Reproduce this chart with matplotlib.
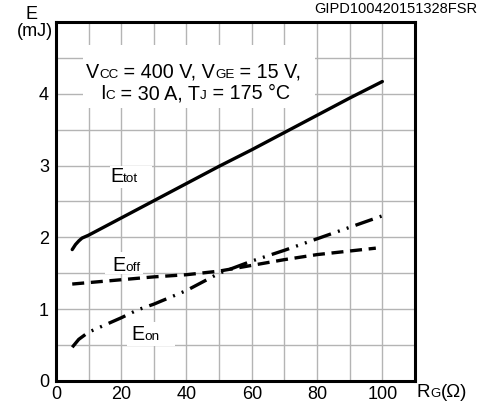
import numpy as np
import matplotlib
matplotlib.use('Agg')
import matplotlib.pyplot as plt
from matplotlib.patches import Rectangle
from matplotlib.offsetbox import TextArea, HPacker, AnnotationBbox

plt.rcParams['font.family'] = ['Liberation Sans', 'DejaVu Sans']

# gate resistance (ohm) and switching energies (mJ)
rg_tot = [5, 6, 7, 8, 10, 20, 30, 40, 50, 60, 70, 80, 90, 100]
e_tot = [1.83, 1.90, 1.95, 1.99, 2.03, 2.27, 2.51, 2.75, 2.99, 3.22, 3.46, 3.70, 3.94, 4.17]

rg_off = [5, 10, 20, 30, 40, 50, 60, 70, 80, 90, 98]
e_off = [1.35, 1.37, 1.41, 1.45, 1.48, 1.53, 1.61, 1.69, 1.76, 1.81, 1.85]

rg_on = [5, 7, 10, 20, 25, 30, 40, 50, 60, 70, 80, 90, 100]
e_on = [0.47, 0.58, 0.68, 0.88, 0.99, 1.07, 1.26, 1.50, 1.67, 1.82, 1.98, 2.14, 2.30]

x_ticks = [0, 20, 40, 60, 80, 100]
y_ticks = [0, 1, 2, 3, 4]

BIG, SMALL = 14.2, 9.7


def mixed_text(ax, x, y, parts, xycoords='data'):
    """pieces of different size on one baseline, e.g. V + small CC
    (x, y) is the lower left corner of the whole text"""
    areas = [TextArea(s, textprops=dict(fontsize=fs)) for s, fs in parts]
    box = HPacker(children=areas, align='baseline', pad=0, sep=0)
    ab = AnnotationBbox(box, (x, y), xycoords=xycoords, box_alignment=(0, 0),
                        frameon=False, pad=0, annotation_clip=False, zorder=3)
    ax.add_artist(ab)
    return ab


fig = plt.figure(figsize=(4.82, 4.03), dpi=100)
ax = fig.add_axes([0.116, 0.0546, 0.745, 0.891])

ax.plot(rg_tot, e_tot, color='black', lw=2.4, solid_capstyle='round', zorder=4)
ax.plot(rg_off, e_off, color='black', lw=2.4, linestyle=(0, (3.6, 2.0)), zorder=4)
ax.plot(rg_on, e_on, color='black', lw=2.4, linestyle=(0, (5.5, 2.2, 0.6, 2.2, 0.6, 2.2)), zorder=4)

ax.set_xlim(0, 110)
ax.set_ylim(0, 5)
ax.set_xticks(x_ticks)
ax.set_xticks(np.arange(10, 111, 20), minor=True)
ax.set_yticks(y_ticks)
ax.set_yticks(np.arange(0.5, 5.01, 1), minor=True)
ax.grid(True, which='both', color='#b4b4b4', lw=1.0, zorder=0)
ax.set_axisbelow(True)
ax.tick_params(which='both', length=0, labelsize=13)
ax.tick_params(axis='x', pad=3.5)
ax.tick_params(axis='y', pad=5)
for sp in ax.spines.values():
    sp.set_linewidth(2.2)

# white boxes behind the in-plot labels
for (x0, y0, w, h) in [(8.3, 3.80, 71.1, 0.88), (16.5, 2.69, 13.0, 0.30),
                       (15.1, 1.49, 11.5, 0.30), (21.8, 0.49, 14.8, 0.33)]:
    ax.add_patch(Rectangle((x0, y0), w, h, facecolor='white', edgecolor='none', zorder=2))

mixed_text(ax, 9.2, 4.17, [('V', BIG), ('CC', SMALL), (' = 400 V, V', BIG),
                           ('GE', SMALL), (' = 15 V,', BIG)])
mixed_text(ax, 13.5, 3.87, [('I', BIG), ('C', SMALL), (' = 30 A, T', BIG),
                            ('J', SMALL), (' = 175 \u00b0C', BIG)])
mixed_text(ax, 16.6, 2.72, [('E', BIG), ('tot', SMALL)])
mixed_text(ax, 17.4, 1.48, [('E', BIG), ('off', SMALL)])
mixed_text(ax, 23.2, 0.51, [('E', BIG), ('on', SMALL)])

fig.text(0.066, 0.963, 'E', fontsize=13, ha='center', va='center')
fig.text(0.072, 0.921, '(mJ)', fontsize=13, ha='center', va='center')
fig.text(0.99, 0.977, 'GIPD100420151328FSR', fontsize=10.5, ha='right', va='center')

mixed_text(ax, 0.865, 0.004, [('R', 13.5), ('G', 9.5), ('(\u03a9)', 13.5)],
           xycoords='figure fraction')

fig.savefig('out.png', dpi=100)
